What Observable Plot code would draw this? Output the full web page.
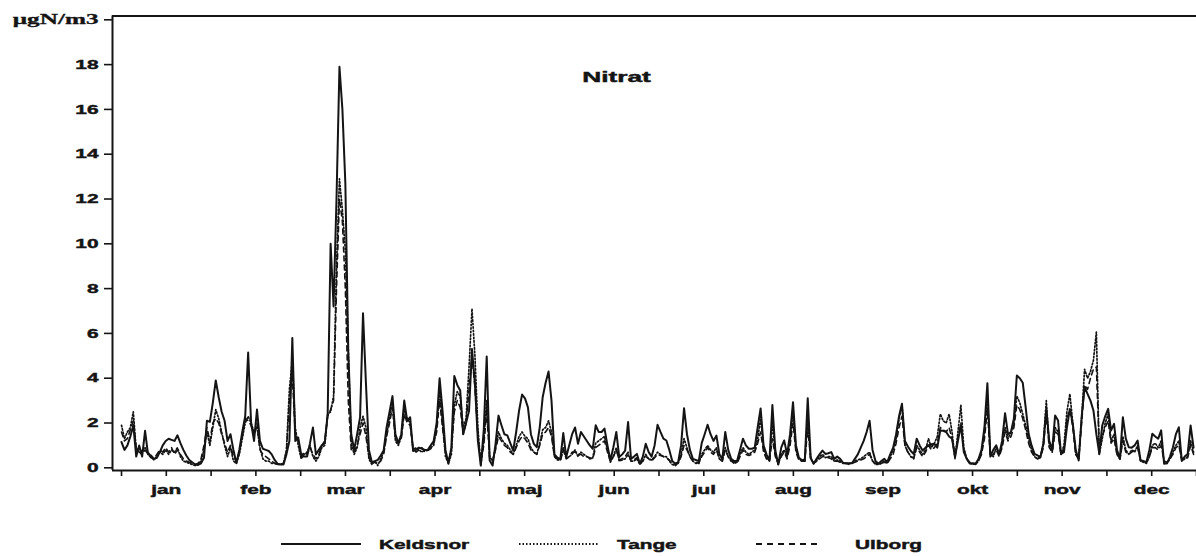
<!DOCTYPE html>
<html><head><meta charset="utf-8">
<script src="https://cdn.jsdelivr.net/npm/d3@7"></script>
<script src="https://cdn.jsdelivr.net/npm/@observablehq/plot@0.6"></script>
<style>
body{margin:0;background:#fff;}
#wrap{width:1196px;height:556px;position:relative;overflow:hidden;background:#fff;}
#legend{position:absolute;left:0;top:520px;width:1196px;height:36px}
</style></head>
<body><div id="wrap"><div id="chart"></div><div id="legend"></div></div>
<script>
const months = ["jan","feb","mar","apr","maj","jun","jul","aug","sep","okt","nov","dec"];
const yTicks = [0,2,4,6,8,10,12,14,16,18,20];
const unitLabel = "μgN/m3";
const title = "Nitrat";
const seriesNames = ["Keldsnor","Tange","Ulborg"];

const keldsnor = [1.15,0.8,1.0,1.4,1.9,0.5,1.0,0.5,1.65,0.6,
0.55,0.4,0.45,0.7,1.0,1.2,1.3,1.25,1.2,1.45,
1.1,0.8,0.55,0.35,0.25,0.15,0.13,0.2,0.45,2.1,
2.05,2.9,3.9,3.15,2.5,2.1,1.2,1.5,0.8,0.2,
0.8,1.6,2.3,5.15,2.0,1.2,2.6,1.2,0.85,0.8,
0.75,0.6,0.35,0.18,0.15,0.15,0.6,1.2,5.8,1.2,
1.35,0.6,0.5,0.5,1.1,1.8,0.6,0.8,1.0,1.1,
2.4,10.0,7.2,12.0,17.9,16.0,12.7,5.2,1.5,0.8,
1.5,2.25,6.9,3.75,0.8,0.25,0.3,0.35,0.55,0.77,
1.8,2.5,3.2,1.5,1.1,1.5,3.0,2.1,2.26,0.75,
0.8,0.9,0.85,0.8,0.8,1.0,1.2,2.0,4.0,2.55,
0.8,0.18,0.9,4.1,3.7,3.45,1.5,2.0,2.55,5.3,
3.75,1.2,0.1,1.7,4.97,0.33,0.1,1.07,2.33,1.9,
1.5,1.45,1.1,0.77,1.6,2.56,3.27,3.1,2.7,1.5,
1.07,0.92,1.8,3.15,3.8,4.3,3.0,0.6,0.45,0.4,
1.55,0.48,1.0,1.5,1.8,1.07,1.6,1.4,1.2,1.0,
0.85,1.9,1.6,1.6,1.75,1.0,0.33,0.92,1.6,0.48,
0.6,0.77,2.04,0.4,0.5,0.62,0.18,0.5,1.07,0.7,
0.5,1.0,1.92,1.6,1.3,1.22,0.8,0.3,0.18,0.25,
1.0,2.66,1.5,0.8,0.4,0.35,0.3,1.1,1.5,1.92,
1.5,1.2,1.44,0.6,0.4,1.6,0.8,0.4,0.3,0.3,
0.8,1.3,1.0,0.85,0.85,0.9,1.8,2.65,1.0,0.6,
0.33,2.8,0.77,0.15,0.9,1.22,0.6,1.5,2.93,1.0,
0.45,0.35,0.3,3.1,0.45,0.18,0.4,0.6,0.77,0.62,
0.65,0.7,0.4,0.5,0.4,0.22,0.2,0.2,0.2,0.4,
0.6,0.9,1.2,1.6,2.1,0.8,0.3,0.18,0.3,0.4,
0.25,0.6,0.9,1.5,2.3,2.86,1.2,0.95,0.75,0.62,
1.3,1.0,0.77,0.9,1.0,1.05,1.07,0.9,1.67,1.65,
1.6,1.4,1.3,0.48,1.2,1.9,0.7,0.4,0.2,0.2,
0.18,0.4,0.8,1.8,3.78,0.5,0.8,1.0,0.6,1.2,
2.44,1.5,1.6,2.2,4.12,4.0,3.8,2.7,1.52,1.0,
0.62,0.55,0.48,1.07,2.63,1.2,0.8,2.34,2.11,0.62,
0.7,1.8,2.63,1.96,0.8,0.33,2.26,3.6,3.3,3.0,
2.56,1.5,0.62,1.89,2.3,2.63,1.67,1.96,0.8,0.4,
2.26,1.3,0.92,0.9,1.0,1.22,0.33,0.3,0.25,0.8,
1.52,1.4,1.3,1.67,0.18,0.2,0.5,0.92,1.5,1.81,
0.33,0.5,0.62,1.89,0.9];

const tange = [1.9,1.3,1.6,1.8,2.5,0.8,0.9,0.7,0.9,0.7,
0.5,0.35,0.5,0.7,0.6,0.8,0.6,0.8,0.7,0.9,
0.5,0.3,0.25,0.2,0.15,0.1,0.15,0.3,0.8,1.6,
1.0,1.8,2.6,2.2,1.6,1.0,0.5,0.9,0.3,0.2,
0.6,1.3,2.0,2.3,2.0,1.6,1.8,0.9,0.4,0.3,
0.3,0.2,0.2,0.15,0.15,0.2,0.8,3.5,4.8,1.8,
1.0,0.4,0.6,0.7,1.0,0.5,0.3,0.5,0.9,1.0,
2.4,2.5,3.2,9.0,12.9,11.5,9.7,5.2,1.1,0.6,
0.9,1.8,2.3,1.8,0.4,0.15,0.3,0.1,0.4,0.7,
1.5,2.2,2.9,1.2,1.0,1.4,2.6,2.2,2.0,0.8,
0.9,0.8,0.7,0.8,0.75,0.9,1.0,1.8,3.5,2.0,
0.5,0.2,0.6,2.8,3.4,3.2,1.8,2.2,4.5,7.1,
5.0,1.8,0.1,1.2,3.0,0.5,0.3,0.9,1.6,1.3,
1.1,1.0,0.8,0.6,1.0,1.4,1.6,1.4,1.3,0.9,
0.7,0.6,1.1,1.7,1.8,2.1,1.6,0.5,0.35,0.35,
0.9,0.4,0.5,0.6,0.8,0.5,0.7,0.6,0.5,0.4,
0.45,1.1,1.2,1.3,1.4,0.8,0.25,0.5,0.9,0.3,
0.35,0.4,0.6,0.3,0.3,0.4,0.15,0.3,0.6,0.4,
0.35,0.5,0.7,0.6,0.5,0.5,0.3,0.15,0.1,0.2,
0.6,1.3,0.9,0.5,0.3,0.2,0.2,0.6,0.8,1.0,
0.8,0.7,0.9,0.4,0.3,0.9,0.5,0.3,0.2,0.25,
0.6,0.9,0.7,0.6,0.7,0.8,1.3,2.2,0.9,0.5,
0.3,2.0,0.6,0.15,0.6,0.8,0.5,1.2,2.5,0.8,
0.4,0.3,0.4,2.2,0.4,0.2,0.3,0.5,0.6,0.45,
0.5,0.5,0.3,0.35,0.3,0.2,0.2,0.2,0.2,0.3,
0.35,0.4,0.5,0.6,0.7,0.3,0.15,0.15,0.2,0.3,
0.2,0.5,0.8,1.3,2.2,2.8,1.0,0.7,0.5,0.4,
1.0,0.8,0.6,0.8,1.3,0.9,1.1,1.4,2.4,2.1,
2.0,2.4,1.6,0.4,1.6,2.8,0.9,0.4,0.2,0.15,
0.2,0.3,0.7,1.6,3.2,0.6,0.5,0.9,0.6,1.0,
1.8,1.3,1.6,2.0,3.2,2.9,2.4,1.9,1.3,0.8,
0.5,0.4,0.5,1.1,3.0,1.0,0.7,1.8,1.6,0.6,
1.0,2.5,3.3,2.0,0.6,0.4,2.2,4.4,4.0,4.3,
4.8,6.06,0.6,1.3,2.0,2.4,1.2,1.5,0.6,0.4,
1.4,0.8,0.6,0.8,0.7,1.0,0.3,0.25,0.2,0.5,
1.0,1.1,0.9,1.2,0.3,0.2,0.4,0.7,1.0,1.2,
0.3,0.4,0.5,1.2,0.7];

const ulborg = [1.6,1.2,1.3,1.7,2.1,0.9,0.7,0.6,0.8,0.6,
0.45,0.4,0.6,0.8,0.7,0.9,0.7,0.9,0.6,0.8,
0.6,0.4,0.3,0.25,0.2,0.15,0.2,0.4,1.0,1.8,
1.2,2.0,2.2,2.0,1.5,1.1,0.7,1.0,0.5,0.3,
0.7,1.4,2.2,2.1,1.9,1.4,2.0,0.8,0.6,0.5,
0.4,0.3,0.2,0.15,0.15,0.2,0.7,3.0,4.1,1.5,
1.2,0.5,0.7,0.6,0.9,0.6,0.4,0.6,1.0,1.2,
2.3,2.6,3.0,8.0,12.0,11.0,8.0,3.0,0.8,0.7,
1.0,1.5,2.0,1.4,0.5,0.2,0.25,0.2,0.3,0.6,
1.4,2.0,2.7,1.3,1.1,1.3,2.4,2.0,1.9,0.9,
0.7,0.8,0.9,0.7,0.8,0.85,1.1,1.6,3.0,1.8,
0.6,0.3,0.8,2.5,3.0,2.7,1.5,2.0,3.5,5.0,
3.6,1.4,0.3,1.0,2.5,0.4,0.3,0.8,1.4,1.2,
1.0,0.9,0.7,0.6,0.9,1.2,1.4,1.3,1.1,0.8,
0.7,0.6,1.0,1.5,1.6,1.8,1.4,0.5,0.4,0.3,
0.8,0.4,0.5,0.7,0.7,0.6,0.6,0.5,0.5,0.45,
0.4,0.9,1.0,1.1,1.2,0.7,0.3,0.5,0.8,0.35,
0.4,0.5,0.7,0.3,0.35,0.45,0.2,0.3,0.5,0.4,
0.3,0.45,0.6,0.55,0.5,0.45,0.35,0.2,0.15,0.2,
0.5,1.0,0.8,0.5,0.3,0.25,0.2,0.5,0.7,0.9,
0.7,0.6,0.8,0.4,0.3,0.8,0.5,0.3,0.25,0.2,
0.5,0.8,0.6,0.55,0.6,0.7,1.1,1.6,0.7,0.4,
0.3,1.3,0.5,0.2,0.5,0.7,0.4,1.0,2.0,0.7,
0.35,0.3,0.3,1.8,0.4,0.2,0.3,0.4,0.5,0.5,
0.45,0.4,0.3,0.3,0.25,0.2,0.2,0.15,0.2,0.25,
0.3,0.35,0.4,0.5,0.6,0.3,0.2,0.15,0.2,0.25,
0.2,0.4,0.6,1.1,1.8,2.3,1.0,0.7,0.5,0.45,
0.9,0.7,0.5,0.7,1.0,0.8,0.9,1.1,1.8,1.7,
1.6,1.8,1.3,0.5,1.3,2.0,0.8,0.4,0.25,0.2,
0.15,0.3,0.6,1.3,2.6,0.5,0.6,0.8,0.5,0.9,
1.6,1.2,1.4,1.8,2.8,2.6,2.2,1.7,1.1,0.7,
0.5,0.4,0.45,0.9,2.4,0.9,0.7,1.6,1.5,0.6,
0.8,2.2,2.6,1.8,0.6,0.4,2.0,3.7,3.5,4.0,
4.4,4.5,0.8,1.4,1.8,2.1,1.1,1.3,0.6,0.4,
1.2,0.7,0.6,0.7,0.8,0.9,0.35,0.3,0.25,0.5,
0.9,0.9,0.8,1.0,0.3,0.25,0.4,0.6,0.9,1.0,
0.35,0.4,0.45,1.0,0.6];

const INK = "#141414";
const toRows = arr => arr.map((v, i) => ({day: i, v}));
const kRows = toRows(keldsnor), tRows = toRows(tange), uRows = toRows(ulborg);

const DAYS = 365;
const xMin = -3.06, yMin = -0.12, yMax = 20.17;
const xTicks = d3.range(0, 25).map(k => k * DAYS / 24);
const xFmt = (d, i) => (i % 2 === 1 ? months[(i - 1) / 2] : "");

const chart = Plot.plot({
  width: 1196, height: 520,
  marginLeft: 112, marginRight: 0, marginTop: 15.5, marginBottom: 50,
  style: {fontFamily: "'Liberation Sans', Arial, sans-serif", fontSize: "13px", fontWeight: "bold", color: INK, background: "#fff"},
  x: {domain: [xMin, DAYS], ticks: xTicks, tickFormat: xFmt, tickSize: 6, tickPadding: 8, label: null},
  y: {domain: [yMin, yMax], ticks: yTicks, tickFormat: d => d === 20 ? unitLabel : String(d), tickSize: 8, tickPadding: 6, label: null},
  marks: [
    Plot.line(uRows, {x: "day", y: "v", stroke: INK, strokeWidth: 1.6, strokeDasharray: "5,4"}),
    Plot.line(tRows, {x: "day", y: "v", stroke: INK, strokeWidth: 1.7, strokeDasharray: "1.5,2"}),
    Plot.line(kRows, {x: "day", y: "v", stroke: INK, strokeWidth: 2}),
    Plot.ruleX([xMin], {stroke: INK, strokeWidth: 2}),
    Plot.ruleY([yMax], {stroke: INK, strokeWidth: 1.8}),
    Plot.ruleY([yMin], {stroke: INK, strokeWidth: 2}),
    Plot.text([title], {frameAnchor: "top", dx: -38, dy: 55, fontSize: 15, fontWeight: "bold", fill: INK})
  ]
});
document.getElementById("chart").appendChild(chart);
d3.select(chart).selectAll("[aria-label$='tick'] path, [aria-label$='tick'] line").attr("stroke-width", 1.6);

// widen and embolden text like the reference's heavy, wide lettering
function stretch(el, k, sw) {
  const len = el.getComputedTextLength();
  if (len > 0) {
    el.setAttribute("textLength", (len * k).toFixed(1));
    el.setAttribute("lengthAdjust", "spacingAndGlyphs");
  }
  el.setAttribute("stroke", INK);
  el.setAttribute("stroke-width", sw);
  el.setAttribute("paint-order", "stroke");
}
d3.select(chart).selectAll("text").each(function() {
  const t = this.textContent;
  if (t === unitLabel) {
    this.style.fontFamily = "'Liberation Serif', 'Times New Roman', serif";
    this.style.fontSize = "14px";
    stretch(this, 1.8, 0.3);
  } else if (t === title) {
    stretch(this, 1.75, 0.45);
  } else {
    stretch(this, 1.6, 0.45);
  }
});

// legend below the chart
const lg = d3.select("#legend").append("svg").attr("width", 1196).attr("height", 36)
  .style("font-family", "'Liberation Sans', Arial, sans-serif").style("font-weight", "bold").style("font-size", "13px");
const items = [
  {name: seriesNames[0], x1: 281, x2: 361, tx: 379, dash: null},
  {name: seriesNames[1], x1: 519, x2: 598, tx: 617, dash: "1.5,2"},
  {name: seriesNames[2], x1: 756, x2: 821, tx: 855, dash: "6,5"}
];
items.forEach(it => {
  lg.append("line").attr("x1", it.x1).attr("x2", it.x2).attr("y1", 24).attr("y2", 24)
    .attr("stroke", INK).attr("stroke-width", 1.8).attr("stroke-dasharray", it.dash);
  const t = lg.append("text").attr("x", it.tx).attr("y", 29).attr("fill", INK).text(it.name);
  stretch(t.node(), 1.6, 0.45);
});
</script>
</body></html>
